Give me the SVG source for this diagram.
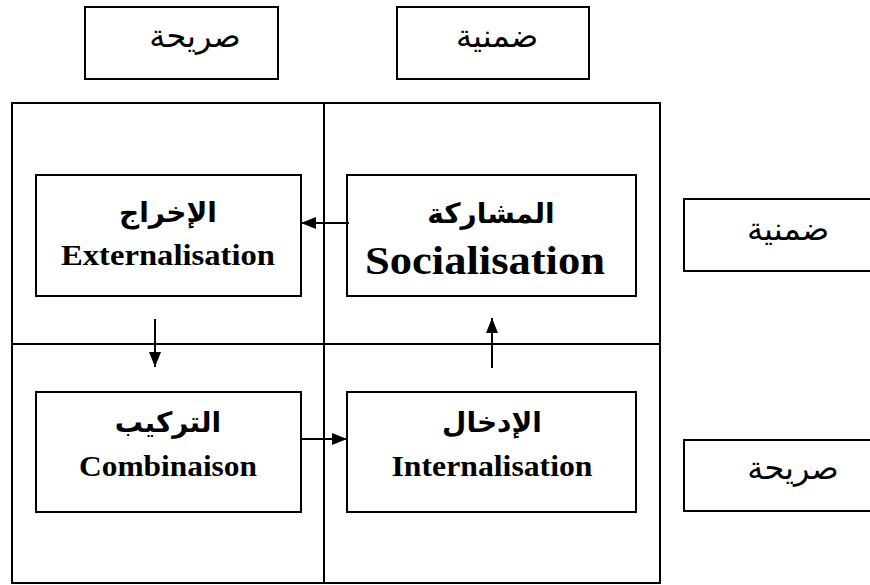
<svg xmlns="http://www.w3.org/2000/svg" width="870" height="585" viewBox="0 0 870 585">
<defs>
<style>
.box{fill:#fff;stroke:#000;stroke-width:2}
.lbl{font-family:"Liberation Sans","DejaVu Sans",sans-serif;font-size:32px;fill:#000;text-anchor:middle}
.ar{font-family:"Liberation Serif","DejaVu Sans",serif;font-weight:bold;font-size:28px;fill:#000;text-anchor:middle}
.en{font-family:"Liberation Serif","Times New Roman",serif;font-weight:bold;font-size:29px;fill:#000;text-anchor:middle}
.con{stroke:#000;stroke-width:2;fill:none;marker-end:url(#ah)}
</style>
<marker id="ah" markerUnits="userSpaceOnUse" markerWidth="16" markerHeight="14" refX="15" refY="7" orient="auto">
<path d="M0,1 L15,7 L0,13 Z" fill="#000"/>
</marker>
</defs>
<rect width="870" height="585" fill="#fff"/>
<g id="top-explicit"><rect class="box" x="85" y="7" width="193" height="72"/><text class="lbl" x="195" y="47">صريحة</text></g>
<g id="top-tacit"><rect class="box" x="397" y="7" width="192" height="72"/><text class="lbl" x="497" y="47">ضمنية</text></g>
<g id="grid"><rect class="box" x="12" y="103" width="648" height="480"/><line x1="324" y1="103" x2="324" y2="583" stroke="#000" stroke-width="2"/><line x1="12" y1="344" x2="660" y2="344" stroke="#000" stroke-width="2"/></g>
<g id="right-tacit"><rect class="box" x="684" y="199" width="200" height="72"/><text class="lbl" x="788" y="240">ضمنية</text></g>
<g id="right-explicit"><rect class="box" x="684" y="440" width="200" height="71"/><text class="lbl" x="793" y="479">صريحة</text></g>
<g id="externalisation"><rect class="box" x="36" y="175" width="265" height="121"/><text class="ar" x="168" y="222">الإخراج</text><text class="en" x="168" y="265" textLength="214" lengthAdjust="spacingAndGlyphs">Externalisation</text></g>
<g id="socialisation"><rect class="box" x="347" y="175" width="289" height="121"/><text class="ar" x="491" y="223">المشاركة</text><text class="en" x="485" y="274" style="font-size:41px" textLength="240" lengthAdjust="spacingAndGlyphs">Socialisation</text></g>
<g id="combinaison"><rect class="box" x="36" y="392" width="265" height="120"/><text class="ar" x="168" y="432">التركيب</text><text class="en" x="168" y="476" textLength="178" lengthAdjust="spacingAndGlyphs">Combinaison</text></g>
<g id="internalisation"><rect class="box" x="347" y="392" width="289" height="120"/><text class="ar" x="492" y="432">الإدخال</text><text class="en" x="492" y="476" textLength="201" lengthAdjust="spacingAndGlyphs">Internalisation</text></g>
<g id="connectors">
<line class="con" x1="349" y1="223" x2="301" y2="223"/>
<line class="con" x1="155" y1="319" x2="155" y2="367"/>
<line class="con" x1="301" y1="439" x2="347" y2="439"/>
<line class="con" x1="492" y1="368" x2="492" y2="318"/>
</g>
</svg>
